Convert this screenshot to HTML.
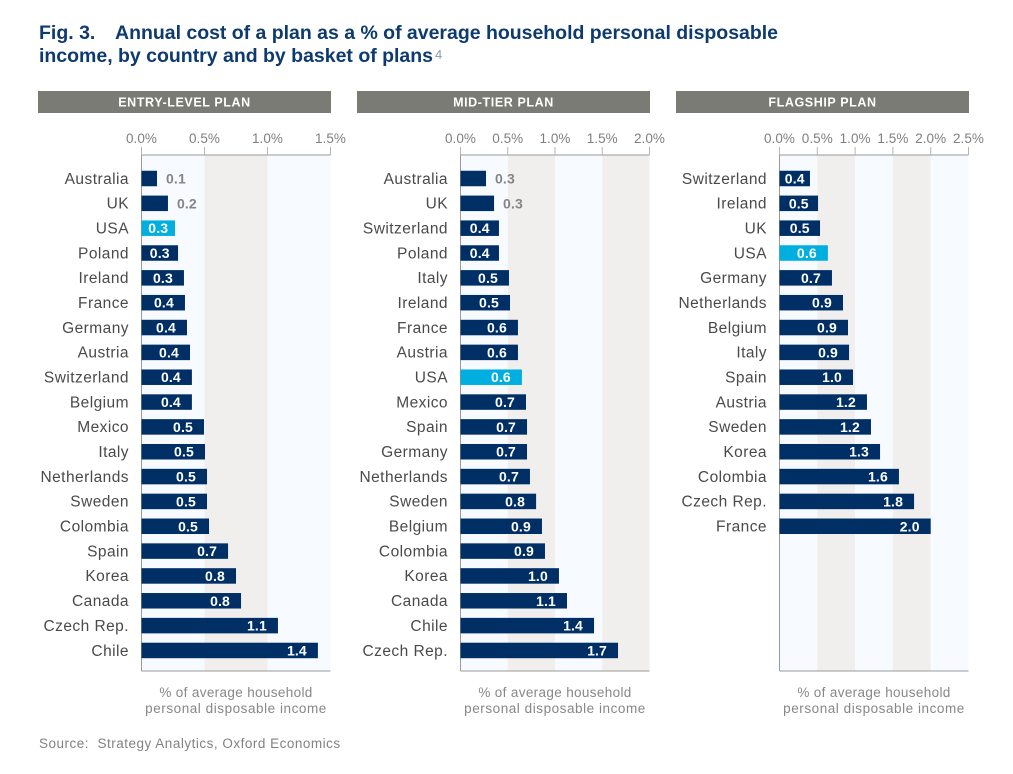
<!DOCTYPE html>
<html lang="en">
<head>
<meta charset="utf-8">
<title>Annual cost of a plan</title>
<style>
html,body{margin:0;padding:0;background:#fff;width:1013px;height:774px;overflow:hidden}
svg{display:block}
text{font-family:"Liberation Sans",sans-serif}
.title{font-size:19.5px;font-weight:bold;fill:#0d3a6f}
.head{font-size:12.5px;font-weight:bold;fill:#fff;letter-spacing:.6px}
.tick{font-size:13.5px;fill:#7d7f80;letter-spacing:.05px}
.cat{font-size:15.5px;fill:#4a4a4a;letter-spacing:.45px}
.val{font-size:14px;font-weight:bold;fill:#fff;letter-spacing:.15px}
.out{font-size:14px;font-weight:bold;fill:#858585;letter-spacing:.15px}
.atitle{font-size:13.5px;fill:#858789;letter-spacing:.35px}
.atitle2{font-size:13.5px;fill:#858789;letter-spacing:.55px}
.src{font-size:13.5px;fill:#808284;letter-spacing:.5px}
</style>
</head>
<body>
<svg id="chart" width="1013" height="774" viewBox="0 0 1013 774" xmlns="http://www.w3.org/2000/svg">
  <text class="title" x="39" y="39">Fig. 3.</text>
  <text class="title" x="115" y="39" textLength="663" lengthAdjust="spacing">Annual cost of a plan as a % of average household personal disposable</text>
  <text class="title" x="39" y="62" textLength="394" lengthAdjust="spacing">income, by country and by basket of plans</text>
  <text x="435" y="59" style="font-size:13px;fill:#8a9bb0">4</text>
  <g id="panels"></g>
  <text class="src" x="39" y="748" xml:space="preserve">Source:  Strategy Analytics, Oxford Economics</text>
</svg>
<script>
const entryCategories = ["Australia","UK","USA","Poland","Ireland","France","Germany","Austria","Switzerland","Belgium","Mexico","Italy","Netherlands","Sweden","Colombia","Spain","Korea","Canada","Czech Rep.","Chile"];
const entryValues = [0.123,0.21,0.266,0.29,0.337,0.345,0.361,0.385,0.40,0.40,0.496,0.504,0.52,0.52,0.536,0.687,0.75,0.79,1.083,1.40];
const entryLabels = ["0.1","0.2","0.3","0.3","0.3","0.4","0.4","0.4","0.4","0.4","0.5","0.5","0.5","0.5","0.5","0.7","0.8","0.8","1.1","1.4"];
const entryTicks = [0,0.5,1.0,1.5];
const entryOutside = ["Australia","UK"];

const midCategories = ["Australia","UK","Switzerland","Poland","Italy","Ireland","France","Austria","USA","Mexico","Spain","Germany","Netherlands","Sweden","Belgium","Colombia","Korea","Canada","Chile","Czech Rep."];
const midValues = [0.27,0.355,0.407,0.407,0.513,0.524,0.608,0.608,0.65,0.693,0.704,0.704,0.735,0.80,0.862,0.894,1.042,1.127,1.413,1.667];
const midLabels = ["0.3","0.3","0.4","0.4","0.5","0.5","0.6","0.6","0.6","0.7","0.7","0.7","0.7","0.8","0.9","0.9","1.0","1.1","1.4","1.7"];
const midTicks = [0,0.5,1.0,1.5,2.0];
const midOutside = ["Australia","UK"];

const flagCategories = ["Switzerland","Ireland","UK","USA","Germany","Netherlands","Belgium","Italy","Spain","Austria","Sweden","Korea","Colombia","Czech Rep.","France"];
const flagValues = [0.403,0.51,0.536,0.64,0.694,0.84,0.906,0.92,0.972,1.157,1.21,1.33,1.58,1.78,2.0];
const flagLabels = ["0.4","0.5","0.5","0.6","0.7","0.9","0.9","0.9","1.0","1.2","1.2","1.3","1.6","1.8","2.0"];
const flagTicks = [0,0.5,1.0,1.5,2.0,2.5];
const flagOutside = [];

const highlightCategory = "USA";
const SVGNS = "http://www.w3.org/2000/svg";
const root = document.getElementById("panels");

function make(tag, parent, props, text) {
  const el = document.createElementNS(SVGNS, tag);
  for (const k in props) el.setAttribute(k, props[k]);
  if (text !== undefined) el.textContent = text;
  parent.appendChild(el);
  return el;
}

function drawPanel(slug, heading, left, categories, values, labels, ticks, outsideList) {
  const width = 189, top = 155, bottom = 671, rowStart = 178.5, rowStep = 24.84, barH = 15.5;
  const axisMax = ticks[ticks.length - 1];
  const xScale = v => left + (v / axisMax) * width;
  const yScale = i => rowStart + i * rowStep;

  const g = make("g", root, {});
  
  

  const hb = make("rect", g, {x: left - 103.5, y: 91, width: width + 104, height: 22, fill: "#7a7b75"});
  
  
  const ht = make("text", g, {x: left - 103.5 + (width + 104) / 2, y: 106.5, "text-anchor": "middle", class: "head"}, heading);
  
  

  for (let i = 0; i < ticks.length - 1; i++) {
    const band = make("rect", g, {
      x: xScale(ticks[i]), y: top, width: xScale(ticks[i + 1]) - xScale(ticks[i]), height: bottom - top,
      fill: i % 2 ? "#f1efee" : "#f7fafe"
    });
    
    
  }

  const topAxis = make("line", g, {x1: left, x2: left + width, y1: top, y2: top, stroke: "#9a9a98", "stroke-width": 1});
  
  
  const leftAxis = make("line", g, {x1: left, x2: left, y1: top, y2: bottom, stroke: "#9a9a98", "stroke-width": 1});
  
  
  const botAxis = make("line", g, {x1: left, x2: left + width, y1: bottom, y2: bottom, stroke: "#9a9a98", "stroke-width": 1});
  
  

  ticks.forEach(t => {
    const tm = make("line", g, {x1: xScale(t), x2: xScale(t), y1: 147, y2: top, stroke: "#b5b5b3", "stroke-width": 1});
    
    
    const tl = make("text", g, {x: xScale(t), y: 143, "text-anchor": "middle", class: "tick"}, t.toFixed(1) + "%");
    
    
  });

  categories.forEach((c, i) => {
    const cy = yScale(i), end = xScale(values[i]);
    const cat = make("text", g, {x: left - 12.5, y: cy + 5.3, "text-anchor": "end", class: "cat"}, c);
    
    

    const bar = make("rect", g, {
      x: left, y: cy - barH / 2, width: end - left, height: barH,
      fill: c === highlightCategory ? "#00aee0" : "#002f66"
    });
    
    

    const outside = outsideList.includes(c);
    const vx = outside ? end + 9 : Math.max((left + end) / 2, end - 21);
    const val = make("text", g, {
      x: vx, y: cy + 5, "text-anchor": outside ? "start" : "middle", class: outside ? "out" : "val"
    }, labels[i]);
    
    
  });

  const a1 = make("text", g, {x: left + 94.5, y: 697, "text-anchor": "middle", class: "atitle"}, "% of average household");
  
  
  const a2 = make("text", g, {x: left + 94.5, y: 713, "text-anchor": "middle", class: "atitle2"}, "personal disposable income");
  
  
}

drawPanel("entry-level", "ENTRY-LEVEL PLAN", 141.5, entryCategories, entryValues, entryLabels, entryTicks, entryOutside);
drawPanel("mid-tier", "MID-TIER PLAN", 460.5, midCategories, midValues, midLabels, midTicks, midOutside);
drawPanel("flagship", "FLAGSHIP PLAN", 779.5, flagCategories, flagValues, flagLabels, flagTicks, flagOutside);
</script>
</body>
</html>
